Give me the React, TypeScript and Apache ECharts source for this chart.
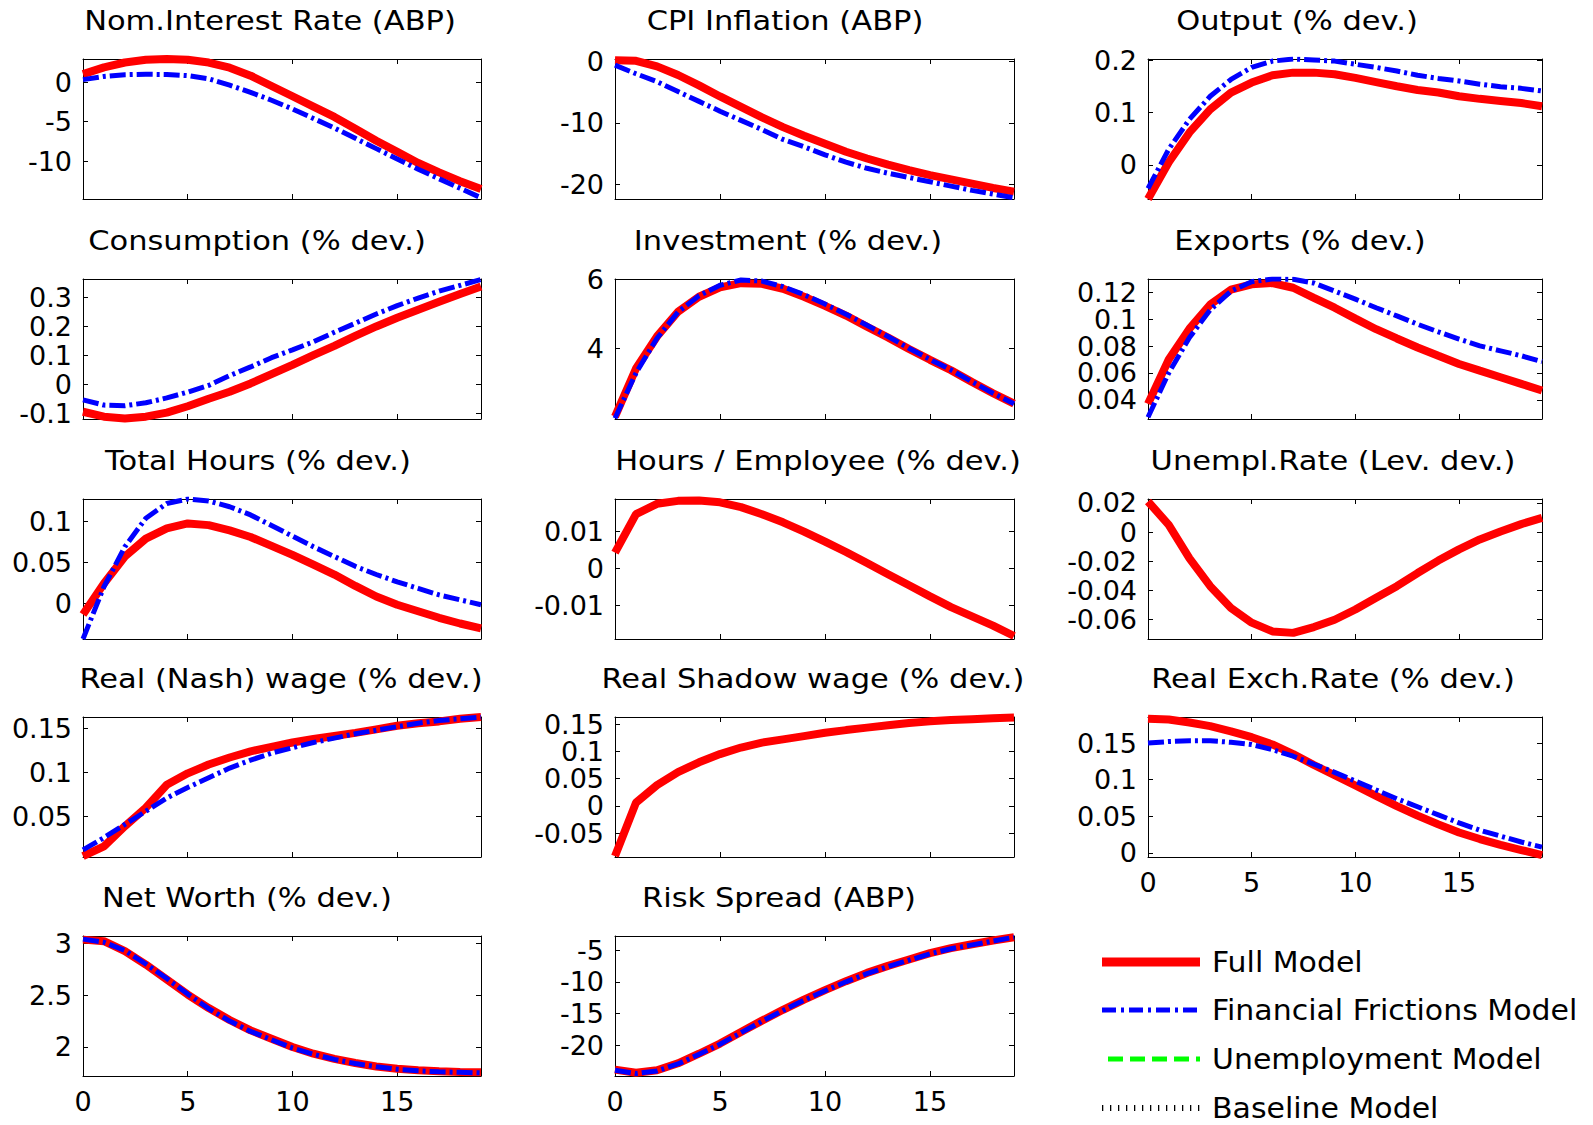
import React, { useEffect, useRef } from "react";
import * as echarts from "echarts";

// ---------- data ----------
const periods = [0, 1, 2, 3, 4, 5, 6, 7, 8, 9, 10, 11, 12, 13, 14, 15, 16, 17, 18, 19];
const xTickValues = [0, 5, 10, 15];
const modelNames = ["Full Model", "Financial Frictions Model", "Unemployment Model", "Baseline Model"];

const nomRateFull = [1.0, 1.84, 2.46, 2.8, 2.9, 2.8, 2.45, 1.8, 0.8, -0.5, -1.8, -3.1, -4.4, -5.9, -7.4, -8.8, -10.2, -11.4, -12.5, -13.5];
const nomRateFF = [0.3, 0.7, 0.92, 0.97, 0.95, 0.8, 0.4, -0.4, -1.3, -2.3, -3.4, -4.6, -5.8, -7.1, -8.4, -9.7, -11.0, -12.2, -13.4, -14.6];

const cpiFull = [0.2, 0.1, -0.8, -2.2, -3.9, -5.7, -7.4, -9.1, -10.7, -12.1, -13.4, -14.7, -15.8, -16.8, -17.7, -18.5, -19.2, -19.9, -20.6, -21.2];
const cpiFF = [-0.6, -2.0, -3.3, -4.9, -6.5, -8.1, -9.6, -11.1, -12.7, -13.9, -15.2, -16.4, -17.4, -18.2, -18.9, -19.6, -20.3, -21.0, -21.6, -22.2];

const outputFull = [-0.065, 0.005, 0.062, 0.106, 0.138, 0.157, 0.171, 0.176, 0.176, 0.173, 0.166, 0.158, 0.15, 0.143, 0.138, 0.131, 0.126, 0.122, 0.118, 0.112];
const outputFF = [-0.045, 0.03, 0.087, 0.131, 0.163, 0.186, 0.198, 0.202, 0.2, 0.198, 0.192, 0.186, 0.179, 0.171, 0.165, 0.16, 0.154, 0.149, 0.146, 0.141];

const consFull = [-0.095, -0.112, -0.118, -0.112, -0.098, -0.076, -0.05, -0.026, 0.003, 0.035, 0.067, 0.101, 0.133, 0.167, 0.2, 0.23, 0.258, 0.285, 0.312, 0.338];
const consFF = [-0.054, -0.072, -0.074, -0.064, -0.047, -0.027, -0.004, 0.03, 0.06, 0.092, 0.119, 0.147, 0.18, 0.211, 0.243, 0.272, 0.298, 0.322, 0.342, 0.362];

const invFull = [2.05, 3.43, 4.35, 5.06, 5.49, 5.76, 5.88, 5.86, 5.72, 5.49, 5.23, 4.95, 4.63, 4.32, 3.99, 3.68, 3.38, 3.04, 2.72, 2.42];
const invFF = [2.0, 3.3, 4.3, 5.05, 5.52, 5.82, 5.97, 5.94, 5.78, 5.55, 5.28, 4.99, 4.67, 4.35, 4.01, 3.69, 3.39, 3.05, 2.72, 2.42];

const expFull = [0.037, 0.07, 0.093, 0.111, 0.122, 0.126, 0.127, 0.1235, 0.116, 0.1086, 0.1005, 0.0926, 0.0857, 0.079, 0.0728, 0.0667, 0.0617, 0.0568, 0.0519, 0.0469];
const expFF = [0.027, 0.06, 0.0864, 0.107, 0.121, 0.128, 0.13, 0.1298, 0.127, 0.121, 0.115, 0.1086, 0.1025, 0.0963, 0.0906, 0.0852, 0.0802, 0.0765, 0.0728, 0.0684];

const hoursFull = [-0.014, 0.024, 0.057, 0.079, 0.0915, 0.0976, 0.0955, 0.089, 0.081, 0.07, 0.059, 0.047, 0.035, 0.021, 0.008, -0.002, -0.01, -0.018, -0.025, -0.031];
const hoursFF = [-0.044, 0.02, 0.069, 0.104, 0.122, 0.1275, 0.125, 0.118, 0.108, 0.095, 0.082, 0.069, 0.057, 0.045, 0.035, 0.026, 0.018, 0.01, 0.004, -0.002];

const hpeFull = [0.0042, 0.0146, 0.0174, 0.0182, 0.0183, 0.0178, 0.0165, 0.0146, 0.0124, 0.0099, 0.0072, 0.0044, 0.0014, -0.0016, -0.0046, -0.0076, -0.0105, -0.013, -0.0155, -0.0183];

const unempFull = [0.021, 0.005, -0.018, -0.037, -0.052, -0.062, -0.068, -0.069, -0.065, -0.06, -0.053, -0.045, -0.037, -0.028, -0.0195, -0.0118, -0.005, 0.0005, 0.0055, 0.0098];

const nashFull = [0.005, 0.016, 0.039, 0.06, 0.086, 0.099, 0.109, 0.117, 0.124, 0.129, 0.134, 0.138, 0.1415, 0.145, 0.149, 0.153, 0.156, 0.158, 0.161, 0.163];
const nashFF = [0.012, 0.026, 0.041, 0.056, 0.071, 0.083, 0.094, 0.105, 0.114, 0.122, 0.128, 0.134, 0.139, 0.144, 0.148, 0.152, 0.156, 0.159, 0.161, 0.163];

const shadowFull = [-0.092, 0.006, 0.038, 0.062, 0.08, 0.095, 0.107, 0.116, 0.122, 0.128, 0.134, 0.139, 0.1435, 0.148, 0.152, 0.155, 0.1575, 0.159, 0.1605, 0.162];

const rerFull = [0.183, 0.182, 0.178, 0.173, 0.166, 0.158, 0.148, 0.135, 0.12, 0.106, 0.092, 0.078, 0.064, 0.051, 0.039, 0.028, 0.019, 0.011, 0.004, -0.003];
const rerFF = [0.15, 0.152, 0.153, 0.153, 0.151, 0.148, 0.141, 0.132, 0.121, 0.11, 0.098, 0.086, 0.074, 0.063, 0.052, 0.041, 0.031, 0.023, 0.015, 0.008];

const nwFull = [3.035, 3.02, 2.925, 2.795, 2.65, 2.505, 2.375, 2.26, 2.16, 2.08, 2.0, 1.935, 1.885, 1.845, 1.812, 1.79, 1.775, 1.765, 1.758, 1.755];
const nwFF = [3.04, 3.01, 2.93, 2.8, 2.66, 2.51, 2.37, 2.25, 2.15, 2.07, 1.99, 1.93, 1.88, 1.84, 1.81, 1.785, 1.77, 1.76, 1.755, 1.75];

const rsFull = [-23.8, -24.3, -23.9, -22.8, -21.3, -19.7, -17.9, -16.1, -14.4, -12.8, -11.3, -9.9, -8.6, -7.5, -6.5, -5.5, -4.7, -4.1, -3.5, -3.0];
const rsFF = [-23.9, -24.4, -24.0, -22.9, -21.4, -19.8, -18.0, -16.2, -14.5, -12.9, -11.4, -10.0, -8.7, -7.6, -6.6, -5.6, -4.8, -4.2, -3.6, -3.0];

const titles = [
  "Nom.Interest Rate (ABP)", "CPI Inflation (ABP)", "Output (% dev.)",
  "Consumption (% dev.)", "Investment (% dev.)", "Exports (% dev.)",
  "Total Hours (% dev.)", "Hours / Employee (% dev.)", "Unempl.Rate (Lev. dev.)",
  "Real (Nash) wage (% dev.)", "Real Shadow wage (% dev.)", "Real Exch.Rate (% dev.)",
  "Net Worth (% dev.)", "Risk Spread (ABP)",
];
const fullSeries = [nomRateFull, cpiFull, outputFull, consFull, invFull, expFull, hoursFull, hpeFull, unempFull, nashFull, shadowFull, rerFull, nwFull, rsFull];
const ffSeries = [nomRateFF, cpiFF, outputFF, consFF, invFF, expFF, hoursFF, null, null, nashFF, null, rerFF, nwFF, rsFF];
const yRanges = [
  [-14.75, 2.9], [-22.4, 0.4], [-0.065, 0.202],
  [-0.12, 0.364], [1.98, 6.0], [0.0257, 0.13],
  [-0.044, 0.1275], [-0.0191, 0.0187], [-0.0732, 0.0227],
  [0.004, 0.163], [-0.0936, 0.163], [-0.0055, 0.1855],
  [1.72, 3.07], [-24.8, -2.8],
];
const yTickValues = [
  [-10, -5, 0], [-20, -10, 0], [0, 0.1, 0.2],
  [-0.1, 0, 0.1, 0.2, 0.3], [4, 6], [0.04, 0.06, 0.08, 0.1, 0.12],
  [0, 0.05, 0.1], [-0.01, 0, 0.01], [-0.06, -0.04, -0.02, 0, 0.02],
  [0.05, 0.1, 0.15], [-0.05, 0, 0.05, 0.1, 0.15], [0, 0.05, 0.1, 0.15],
  [2, 2.5, 3], [-20, -15, -10, -5],
];
const xLabelPanels = [11, 12, 13];

// ---------- layout / style ----------
const FONT = "'DejaVu Sans', 'Liberation Sans', Arial, sans-serif";
const colLeft = [83, 615, 1148];
const colWidth = [398, 399, 394];
const rowTop = [59, 279, 499, 717, 936];
const plotHeight = 140;
const titleCenterX = [270, 785, 1297, 257, 788, 1300, 258, 818, 1333, 281, 813, 1333, 247, 779];
const legendY = [962, 1010, 1059, 1108];
const legendStyles = [
  { stroke: "#ff0000", lineWidth: 9, lineDash: null as number[] | null, x1: 1102 },
  { stroke: "#0000ff", lineWidth: 5, lineDash: [14, 5, 3, 5], x1: 1102 },
  { stroke: "#00ff00", lineWidth: 5, lineDash: [15, 7], x1: 1108 },
  { stroke: "#000000", lineWidth: 6, lineDash: [1.3, 6.7], x1: 1102 },
];

function buildOption() {
  const grid: any[] = [];
  const xAxis: any[] = [];
  const yAxis: any[] = [];
  const series: any[] = [];
  const graphic: any[] = [];
  const axisLine = { show: true, onZero: false, lineStyle: { color: "#000", width: 1 } };
  const tickStyle = { color: "#000", width: 1 };
  const labelBase = {
    fontSize: 27, color: "#000", fontFamily: FONT, lineHeight: 24,
    showMinLabel: true, showMaxLabel: true, hideOverlap: false,
  };

  titles.forEach((title, i) => {
    const col = i % 3;
    const row = Math.floor(i / 3);
    grid.push({ left: colLeft[col], top: rowTop[row], width: colWidth[col], height: plotHeight, containLabel: false });
    const showX = xLabelPanels.includes(i);
    xAxis.push({
      gridIndex: i, type: "value", position: "bottom", min: 0, max: 19,
      axisLine, splitLine: { show: false },
      axisTick: { show: true, inside: true, length: 5, customValues: xTickValues, lineStyle: tickStyle },
      axisLabel: { ...labelBase, show: showX, customValues: xTickValues, margin: 13 },
    });
    xAxis.push({
      gridIndex: i, type: "value", position: "top", min: 0, max: 19,
      axisLine, splitLine: { show: false },
      axisTick: { show: true, inside: true, length: 5, customValues: xTickValues, lineStyle: tickStyle },
      axisLabel: { show: false },
    });
    const [ymin, ymax] = yRanges[i];
    yAxis.push({
      gridIndex: i, type: "value", position: "left", min: ymin, max: ymax,
      axisLine, splitLine: { show: false },
      axisTick: { show: true, inside: true, length: 5, customValues: yTickValues[i], lineStyle: tickStyle },
      axisLabel: { ...labelBase, show: true, customValues: yTickValues[i], margin: 11 },
    });
    yAxis.push({
      gridIndex: i, type: "value", position: "right", min: ymin, max: ymax,
      axisLine, splitLine: { show: false },
      axisTick: { show: true, inside: true, length: 5, customValues: yTickValues[i], lineStyle: tickStyle },
      axisLabel: { show: false },
    });
    series.push({
      name: modelNames[0], type: "line", xAxisIndex: 2 * i, yAxisIndex: 2 * i,
      data: periods.map((t, k) => [t, fullSeries[i][k]]),
      symbol: "none", showSymbol: false, silent: true, clip: true,
      lineStyle: { color: "#ff0000", width: 8 },
    });
    const ff = ffSeries[i];
    if (ff) {
      series.push({
        name: modelNames[1], type: "line", xAxisIndex: 2 * i, yAxisIndex: 2 * i,
        data: periods.map((t, k) => [t, ff[k]]),
        symbol: "none", showSymbol: false, silent: true, clip: true,
        lineStyle: { color: "#0000ff", width: 5, type: [16, 4, 3, 4] },
      });
    }
    graphic.push({
      type: "text", x: titleCenterX[i], y: rowTop[row] - 38, scaleX: 1.13,
      style: { text: title, fontSize: 27, fontFamily: FONT, fill: "#000", textAlign: "center", textVerticalAlign: "middle" },
    });
  });

  modelNames.forEach((name, j) => {
    const s = legendStyles[j];
    graphic.push({
      type: "line",
      shape: { x1: s.x1, y1: legendY[j], x2: 1200, y2: legendY[j] },
      style: { stroke: s.stroke, lineWidth: s.lineWidth, lineDash: s.lineDash || undefined },
    });
    graphic.push({
      type: "text", x: 1212, y: legendY[j], scaleX: 1.07,
      style: { text: name, fontSize: 28, fontFamily: FONT, fill: "#000", textAlign: "left", textVerticalAlign: "middle" },
    });
  });

  return { animation: false, backgroundColor: "#fff", grid, xAxis, yAxis, series, graphic };
}

export default function App() {
  const ref = useRef<HTMLDivElement>(null);
  useEffect(() => {
    document.body.style.margin = "0";
    if (!ref.current) return;
    const chart = echarts.init(ref.current, undefined, { renderer: "svg" });
    chart.setOption(buildOption() as any);
    return () => chart.dispose();
  }, []);
  return <div ref={ref} style={{ width: 1593, height: 1125, background: "#fff" }} />;
}
